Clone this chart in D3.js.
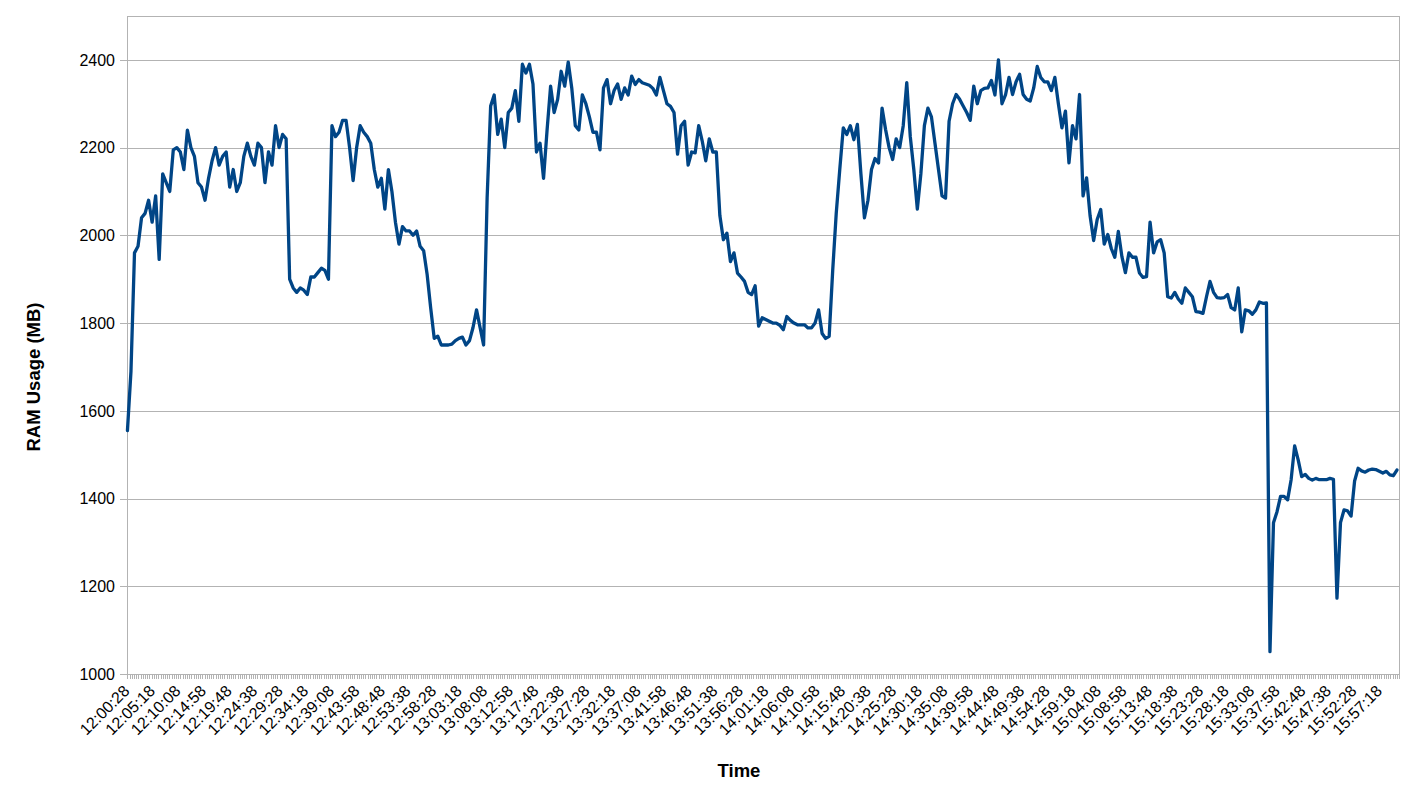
<!DOCTYPE html>
<html><head><meta charset="utf-8">
<script src="https://cdn.jsdelivr.net/npm/d3@7"></script>
<style>body{margin:0;background:#fff;overflow:hidden} text{font-family:"Liberation Sans",Arial,sans-serif}</style>
</head><body><svg id="c" width="1428" height="803"></svg>
<script>
// ---- data ----
const yTicks = [1000, 1200, 1400, 1600, 1800, 2000, 2200, 2400];
const xLabels = ["12:00:28","12:05:18","12:10:08","12:14:58","12:19:48","12:24:38","12:29:28","12:34:18","12:39:08","12:43:58",
  "12:48:48","12:53:38","12:58:28","13:03:18","13:08:08","13:12:58","13:17:48","13:22:38","13:27:28","13:32:18",
  "13:37:08","13:41:58","13:46:48","13:51:38","13:56:28","14:01:18","14:06:08","14:10:58","14:15:48","14:20:38",
  "14:25:28","14:30:18","14:35:08","14:39:58","14:44:48","14:49:38","14:54:28","14:59:18","15:04:08","15:08:58",
  "15:13:48","15:18:38","15:23:28","15:28:18","15:33:08","15:37:58","15:42:48","15:47:38","15:52:28","15:57:18"];
const labelEvery = 29;      // samples between shown labels (10 s samples)
const totalSamples = 1444;  // number of 10 s samples
const sampleStep = 4;       // ramMB holds every 4th sample
const ramMB = [
1555,1690,1960,1975,2040,2050,2080,2030,2090,1945,
2140,2120,2100,2195,2200,2190,2150,2240,2200,2180,
2120,2110,2080,2130,2170,2200,2160,2180,2190,2110,
2150,2100,2120,2180,2210,2180,2160,2210,2200,2120,
2190,2160,2250,2200,2230,2220,1900,1880,1870,1880,
1875,1865,1905,1905,1915,1925,1920,1900,2250,2225,
2235,
2262,2262,2200,2125,2200,2250,2235,2225,2210,2150,
2110,2130,2060,2150,2100,2030,1980,2020,2010,2010,
2000,2010,1975,1965,1910,1834,1765,1770,1750,1750,
1750,1752,1760,1765,1768,1750,1760,1790,1830,1790,
1750,2085,
2295,2320,2230,2265,2200,2280,2290,2330,2260,2390,
2370,2390,2345,2190,2210,2130,2240,2340,2280,2310,
2374,2340,2395,2336,2250,2240,2320,2300,2270,2235,
2235,2195,2336,2355,2300,2330,2345,2310,2336,2320,
2363,2344,2355,
2348,2345,2342,2335,2320,2360,2330,2300,2294,2280,
2185,2250,2260,2160,2190,2188,2250,2215,2170,2220,
2190,2190,2045,1990,2005,1940,1960,1914,1905,1895,
1870,1865,1885,1793,1812,1808,1804,1800,1800,1795,
1785,1815,
1806,1800,1796,1796,1796,1789,1789,1800,1830,1776,
1765,1770,1920,2050,2150,2245,2230,2250,2218,2253,
2140,2040,2080,2150,2175,2165,2290,2241,2200,2173,
2220,2200,2250,2348,2225,2150,2060,2140,2250,2290,
2270,2210,
2150,2090,2085,2260,2300,2321,2310,2295,2280,2262,
2340,2300,2330,2335,2336,2353,2320,2400,2300,2320,
2360,2321,2350,2367,2321,2310,2306,2336,2385,2360,
2350,2350,2330,2360,2300,2245,2283,2165,2250,2220,
2321,2090,2131,
2044,1988,2036,2059,1980,2002,1970,1950,2009,1952,
1915,1960,1950,1950,1914,1904,1906,2030,1960,1985,
1990,1960,1860,1857,1870,1855,1845,1880,1870,1860,
1826,1825,1822,1860,1895,1870,1858,1857,1858,1865,
1835,1830,
1880,1780,1830,1828,1820,1830,1848,1845,1846,1051,
1345,1370,1405,1405,1397,1443,1520,1488,1450,1455,
1446,1442,1446,1443,1443,1443,1446,1444,1173,1345,
1374,1372,1360,1440,1469,1463,1460,1465,1467,1466,
1462,1458,1462,1454,1452,1465
];
const yTitle = "RAM Usage (MB)";
const xTitle = "Time";

// ---- layout ----
const plot = {left: 127, right: 1400, top: 16, bottom: 674};
const gridColor = "#b3b3b3";
const lineColor = "#004586";

const svg = d3.select("#c");
svg.append("rect").attr("width", 1428).attr("height", 803).attr("fill", "#fff");

const x = d3.scaleLinear().domain([-0.5, totalSamples - 0.5]).range([plot.left, plot.right]);
const y = d3.scaleLinear().domain([1000, 2500]).range([plot.bottom, plot.top]);

// grid lines
svg.append("g").selectAll("line").data(yTicks).join("line")
  .attr("x1", plot.left - 7).attr("x2", plot.right)
  .attr("y1", d => Math.round(y(d)) + 0.5).attr("y2", d => Math.round(y(d)) + 0.5)
  .attr("stroke", gridColor).attr("stroke-width", 1);

// plot border
svg.append("rect")
  .attr("x", plot.left + 0.5).attr("y", plot.top + 0.5)
  .attr("width", plot.right - plot.left - 1).attr("height", plot.bottom - plot.top)
  .attr("fill", "none").attr("stroke", gridColor).attr("stroke-width", 1);

// y labels
svg.append("g").selectAll("text").data(yTicks).join("text")
  .attr("x", 115).attr("y", d => y(d)).attr("dy", "0.36em")
  .attr("text-anchor", "end").attr("font-size", 16).attr("fill", "#000")
  .text(d => d);

// x minor ticks
svg.append("g").selectAll("line").data(d3.range(0, totalSamples, 2.5)).join("line")
  .attr("x1", d => Math.round(x(d)) + 0.5).attr("x2", d => Math.round(x(d)) + 0.5)
  .attr("y1", plot.bottom).attr("y2", plot.bottom + 5)
  .attr("stroke", gridColor).attr("stroke-width", 1);

// x labels
svg.append("g").selectAll("text").data(xLabels).join("text")
  .attr("transform", (d, k) => `translate(${x(k * labelEvery) + 3},692) rotate(-45)`)
  .attr("text-anchor", "end").attr("font-size", 16).attr("fill", "#000")
  .text(d => d);

// line
const line = d3.line().x((d, i) => x(i * sampleStep)).y(d => y(d));
svg.append("path").datum(ramMB)
  .attr("d", line).attr("fill", "none")
  .attr("stroke", lineColor).attr("stroke-width", 3.3)
  .attr("stroke-linejoin", "round").attr("stroke-linecap", "round");

// titles
svg.append("text").attr("transform", "translate(40,377) rotate(-90)")
  .attr("text-anchor", "middle").attr("font-size", 18.5).attr("font-weight", "bold")
  .text(yTitle);
svg.append("text").attr("x", 739).attr("y", 777)
  .attr("text-anchor", "middle").attr("font-size", 18.5).attr("font-weight", "bold")
  .text(xTitle);
</script></body></html>
